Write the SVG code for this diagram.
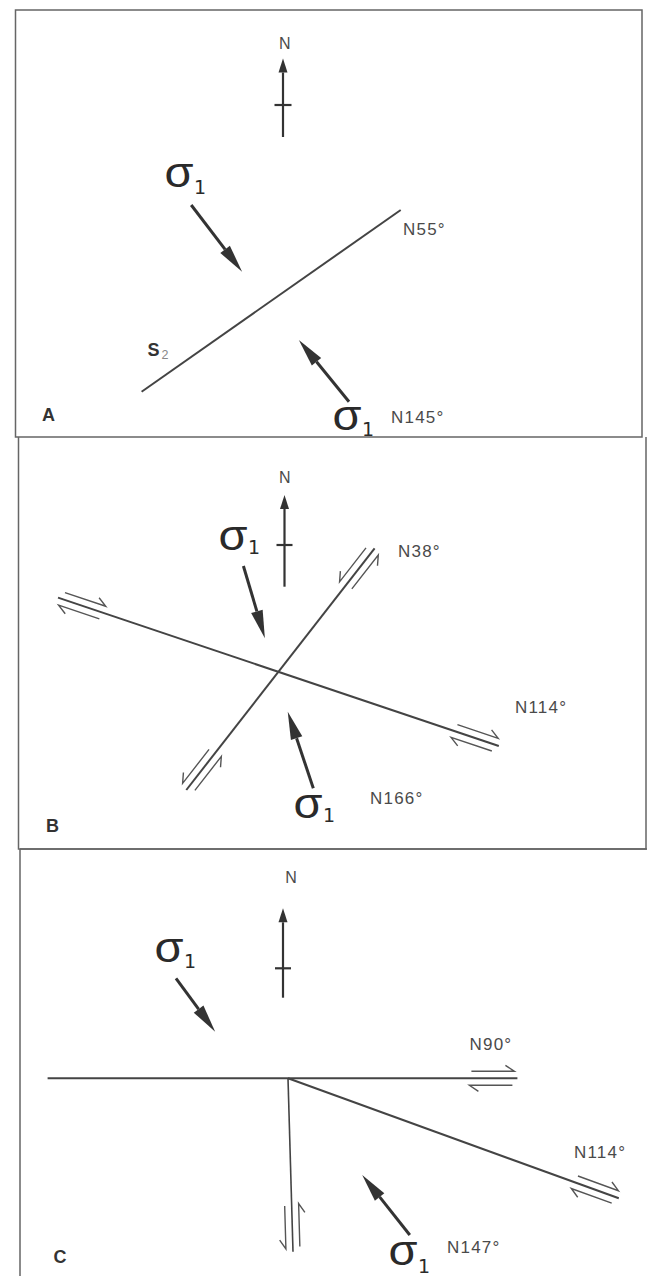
<svg xmlns="http://www.w3.org/2000/svg" width="649" height="1276" viewBox="0 0 649 1276">
<style>
.frame{fill:none;stroke:#666;stroke-width:1.5}
.fault{fill:none;stroke:#444;stroke-width:2}
.thin{stroke-width:1.6}
.harp{fill:none;stroke:#555;stroke-width:1.4}
.narrow{stroke:#333;stroke-width:2.2;fill:none}
.sarrow{stroke:#333;stroke-width:3;fill:none}
.lbl{font-family:"Liberation Sans",Arial,sans-serif;font-size:17px;fill:#4a4a4a;letter-spacing:1.2px}
.nlbl{font-family:"Liberation Sans",Arial,sans-serif;font-size:16px;fill:#4a4a4a;text-anchor:middle}
.pl{font-family:"Liberation Sans",Arial,sans-serif;font-size:18px;font-weight:bold;fill:#333}
.sig{font-family:"Liberation Sans",Arial,sans-serif;font-size:42px;fill:#2a2a2a}
.sub{font-family:"DejaVu Sans",sans-serif;font-size:19px;fill:#2a2a2a}
.s2{font-family:"Liberation Sans",Arial,sans-serif;font-size:18px;font-weight:bold;fill:#333}
.s2sub{font-family:"Liberation Sans",Arial,sans-serif;font-size:12.5px;fill:#888}
</style>
<defs>
<marker id="nhead" markerUnits="userSpaceOnUse" markerWidth="16" markerHeight="12" refX="0" refY="0" orient="auto" overflow="visible"><path d="M0,-4.5 L14,0 L0,4.5 z" fill="#333"/></marker>
<marker id="shead" markerUnits="userSpaceOnUse" markerWidth="30" markerHeight="14" refX="0" refY="0" orient="auto" overflow="visible"><path d="M0,-6 L28,0 L0,6 z" fill="#333"/></marker>
<g id="dex" class="harp"><path d="M-46,-7 L-3,-7 L-12,-13"/><path d="M-5,7 L-48,7 L-39,13"/></g>
</defs>

<g id="frames">
<path class="frame" d="M15.5,10 H642 V437 H15.5 Z"/>
<path class="frame" d="M18.5,437 V849 H646 V437"/>
<path class="frame" d="M20,849 V1276 M20,849 H647"/>
</g>

<g id="panel-A">
<g id="A-north"><line class="narrow" x1="283" y1="137" x2="283" y2="72.5" marker-end="url(#nhead)"/><line class="narrow" x1="274.5" y1="105" x2="291.5" y2="105"/><text class="nlbl" x="284.8" y="49">N</text></g>
<g id="A-S2"><line class="fault" x1="141.6" y1="391.7" x2="400.7" y2="210"/><text class="s2" x="147.5" y="356">S</text><text class="s2sub" x="161.5" y="359">2</text></g>
<g id="A-sig1"><text class="sig" x="164.5" y="187" textLength="29" lengthAdjust="spacingAndGlyphs">σ</text><text class="sub" x="194" y="194">1</text></g>
<g id="A-sig2"><text class="sig" x="332.5" y="430" textLength="29" lengthAdjust="spacingAndGlyphs">σ</text><text class="sub" x="362" y="435.5">1</text></g>
<text class="lbl" x="403" y="235">N55°</text>
<text class="lbl" x="391" y="422.7">N145°</text>
<text class="pl" x="42" y="420.7">A</text>
</g>

<g id="panel-B">
<g id="B-north"><line class="narrow" x1="284.5" y1="586.7" x2="284.5" y2="509" marker-end="url(#nhead)"/><line class="narrow" x1="276.5" y1="545" x2="292.5" y2="545"/><text class="nlbl" x="284.8" y="482.7">N</text></g>
<g id="B-fault114"><line class="fault" x1="58" y1="597.6" x2="498.8" y2="746"/><use href="#dex" transform="translate(498.8,746) rotate(18.61)"/><use href="#dex" transform="translate(58,597.6) rotate(198.61)"/></g>
<g id="B-fault38"><line class="fault" x1="186.3" y1="790" x2="374.6" y2="548.3"/><use href="#dex" transform="translate(374.6,548.3) rotate(-52.08) scale(1,-1)"/><use href="#dex" transform="translate(186.3,790) rotate(127.92) scale(1,-1)"/></g>
<g id="B-sig1"><text class="sig" x="218.5" y="550" textLength="29" lengthAdjust="spacingAndGlyphs">σ</text><text class="sub" x="248" y="553.5">1</text></g>
<g id="B-sig2"><text class="sig" x="293.5" y="818.3" textLength="29" lengthAdjust="spacingAndGlyphs">σ</text><text class="sub" x="323" y="821.7">1</text></g>
<text class="lbl" x="398" y="556.5">N38°</text>
<text class="lbl" x="515" y="713">N114°</text>
<text class="lbl" x="370" y="804">N166°</text>
<text class="pl" x="46" y="831.5">B</text>
</g>

<g id="panel-C">
<g id="C-north"><line class="narrow" x1="283" y1="997.7" x2="283" y2="922.3" marker-end="url(#nhead)"/><line class="narrow" x1="275" y1="968.3" x2="291" y2="968.3"/><text class="nlbl" x="291" y="883.3">N</text></g>
<g id="C-fault90"><line class="fault" x1="47.6" y1="1078.3" x2="517.4" y2="1078.3"/><use href="#dex" transform="translate(517.4,1078.3)"/></g>
<g id="C-fault0"><line class="fault thin" x1="288" y1="1078.3" x2="293" y2="1251.7"/><use href="#dex" transform="translate(293,1251.7) rotate(88.35) scale(1,-1)"/></g>
<g id="C-fault114"><line class="fault" x1="288" y1="1078.3" x2="618.8" y2="1198.3"/><use href="#dex" transform="translate(618.8,1198.3) rotate(19.94)"/></g>
<g id="C-sig1"><text class="sig" x="154.5" y="962.3" textLength="29" lengthAdjust="spacingAndGlyphs">σ</text><text class="sub" x="184" y="968.3">1</text></g>
<g id="C-sig2"><text class="sig" x="388.5" y="1265" textLength="29" lengthAdjust="spacingAndGlyphs">σ</text><text class="sub" x="418" y="1273">1</text></g>
<text class="lbl" x="469.5" y="1050">N90°</text>
<text class="lbl" x="574" y="1158.3">N114°</text>
<text class="lbl" x="447" y="1253.3">N147°</text>
<text class="pl" x="53.5" y="1263.3">C</text>
</g>

<g id="connectors">
<line class="sarrow" x1="191.2" y1="205" x2="225.1" y2="249.4" marker-end="url(#shead)"/>
<line class="sarrow" x1="349" y1="401.7" x2="316.5" y2="361.7" marker-end="url(#shead)"/>
<line class="sarrow" x1="243.4" y1="566" x2="256.9" y2="611.4" marker-end="url(#shead)"/>
<line class="sarrow" x1="313.3" y1="788.3" x2="296.6" y2="738.2" marker-end="url(#shead)"/>
<line class="sarrow" x1="176" y1="978.3" x2="198.6" y2="1009.1" marker-end="url(#shead)"/>
<line class="sarrow" x1="409.8" y1="1235" x2="379.6" y2="1196.9" marker-end="url(#shead)"/>
</g>
</svg>
